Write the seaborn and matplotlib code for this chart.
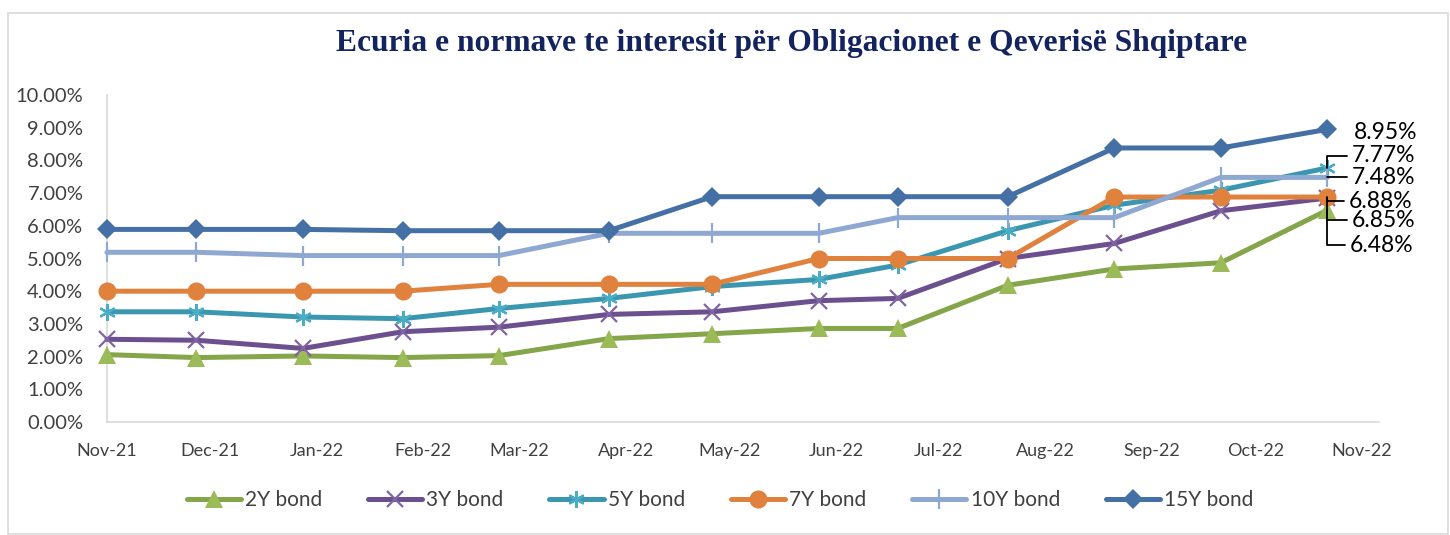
import matplotlib
matplotlib.use("Agg")
import matplotlib.pyplot as plt
import matplotlib.dates as mdates
from matplotlib.patches import Rectangle
import pandas as pd
import seaborn as sns

# ---------------- data ----------------
dates = ["2021-11-01", "2021-11-27", "2021-12-28", "2022-01-26", "2022-02-23",
         "2022-03-27", "2022-04-26", "2022-05-27", "2022-06-19", "2022-07-21",
         "2022-08-21", "2022-09-21", "2022-10-22"]

bond_2y = [2.06, 1.97, 2.02, 1.97, 2.03, 2.55, 2.70, 2.86, 2.86, 4.18, 4.68, 4.87, 6.48]
bond_3y = [2.53, 2.50, 2.25, 2.76, 2.90, 3.29, 3.37, 3.71, 3.78, 5.00, 5.46, 6.46, 6.85]
bond_5y = [3.37, 3.37, 3.21, 3.16, 3.47, 3.78, 4.14, 4.36, 4.80, 5.85, 6.63, 7.09, 7.77]
bond_7y = [4.00, 4.00, 4.00, 4.00, 4.21, 4.21, 4.21, 5.00, 5.00, 5.00, 6.88, 6.88, 6.88]
bond_10y = [5.19, 5.19, 5.09, 5.09, 5.09, 5.77, 5.77, 5.77, 6.25, 6.25, 6.25, 7.48, 7.48]
bond_15y = [5.89, 5.89, 5.89, 5.85, 5.85, 5.85, 6.89, 6.89, 6.89, 6.89, 8.38, 8.38, 8.95]

series_names = ["2Y bond", "3Y bond", "5Y bond", "7Y bond", "10Y bond", "15Y bond"]
series_values = [bond_2y, bond_3y, bond_5y, bond_7y, bond_10y, bond_15y]

title = "Ecuria e normave te interesit për Obligacionet e Qeverisë Shqiptare"

# ---------------- styles ----------------
styles = {
    "2Y bond":  dict(color="#84A54A", marker="^", markersize=13, markerfacecolor="#9BBB59",
                     markeredgecolor="#9BBB59", markeredgewidth=0),
    "3Y bond":  dict(color="#6B4F8F", marker="x", markersize=11, markerfacecolor="#8064A2",
                     markeredgecolor="#8064A2", markeredgewidth=1.6),
    "5Y bond":  dict(color="#3B97AF", marker=(6, 2, 0), markersize=12, markerfacecolor="#4BACC6",
                     markeredgecolor="#4BACC6", markeredgewidth=1.6),
    "7Y bond":  dict(color="#E0823D", marker="o", markersize=13, markerfacecolor="#E0823D",
                     markeredgecolor="#E0823D", markeredgewidth=0),
    "10Y bond": dict(color="#8FA8D1", marker="|", markersize=14, markerfacecolor="#8FA8D1",
                     markeredgecolor="#8FA8D1", markeredgewidth=1.6),
    "15Y bond": dict(color="#4470A6", marker="D", markersize=10, markerfacecolor="#4470A6",
                     markeredgecolor="#4470A6", markeredgewidth=0),
}

sns.set_style("white")
plt.rcParams["font.family"] = ["Lato", "DejaVu Sans"]

fig = plt.figure(figsize=(14.5, 5.35), dpi=100)
ax = fig.add_axes([107 / 1450, 1 - 422 / 535, (1379 - 107) / 1450, (422 - 95) / 535])

x_dates = pd.to_datetime(dates)
for name, vals in zip(series_names, series_values):
    df = pd.DataFrame({"date": x_dates, "rate": vals})
    sns.lineplot(data=df, x="date", y="rate", ax=ax, label=name, linewidth=3.6,
                 zorder=3, clip_on=False, **styles[name])

# axes formatting
ax.set_ylim(0, 10)
ax.set_yticks(range(0, 11))
ax.set_yticklabels([f"{v:.2f}%" for v in range(0, 11)])
ax.set_xlim(pd.Timestamp("2021-11-01"), pd.Timestamp("2022-11-06"))
ax.xaxis.set_major_locator(mdates.MonthLocator())
ax.xaxis.set_major_formatter(mdates.DateFormatter("%b-%y"))
ax.set_xlabel("")
ax.set_ylabel("")
ax.tick_params(axis="y", length=0, pad=17, labelsize=14.5, labelcolor="#404040")
ax.tick_params(axis="x", length=0, pad=15, labelsize=13, labelcolor="#404040")
ax.grid(False)
for s in ["top", "right"]:
    ax.spines[s].set_visible(False)
for s in ["left", "bottom"]:
    ax.spines[s].set_color("#D9D9D9")
    ax.spines[s].set_linewidth(1.2)

# end-point labels with leader lines
last_date = x_dates[-1]
label_offsets = {
    "15Y bond": (26, -3, False),
    "5Y bond": (24, 12, True),
    "10Y bond": (24, 0, True),
    "7Y bond": (21, -4, True),
    "3Y bond": (24, -22, True),
    "2Y bond": (22, -35, True),
}
for name, vals in zip(series_names, series_values):
    dx, dy, leader = label_offsets[name]
    arrow = None
    if leader:
        arrow = dict(arrowstyle="-", color="black", lw=1.3, shrinkA=1, shrinkB=0,
                     relpos=(0, 0.5),
                     connectionstyle="angle,angleA=0,angleB=90,rad=0")
    ax.annotate(f"{vals[-1]:.2f}%", xy=(last_date, vals[-1]), xytext=(dx, dy),
                textcoords="offset pixels", ha="left", va="center",
                fontsize=16.5, color="black", arrowprops=arrow, zorder=5)

# legend
leg = ax.legend(loc="center", bbox_to_anchor=(720 / 1450, 1 - 500 / 535),
                bbox_transform=fig.transFigure, ncol=6, frameon=False,
                fontsize=15, handlelength=2.6, handletextpad=0.2,
                columnspacing=2.2, labelcolor="#404040")

# title
fig.text(792 / 1450, 1 - 43 / 535, title, ha="center", va="center",
         fontsize=22.7, fontweight="bold", color="#13235E",
         family=["Liberation Serif", "DejaVu Serif"])

# chart border
fig.patches.append(Rectangle((8 / 1450, 1 / 535), (1448 - 8) / 1450, (534 - 13) / 535,
                             transform=fig.transFigure, fill=False,
                             edgecolor="#D9D9D9", linewidth=1.2))

fig.savefig("out.png", dpi=100)
